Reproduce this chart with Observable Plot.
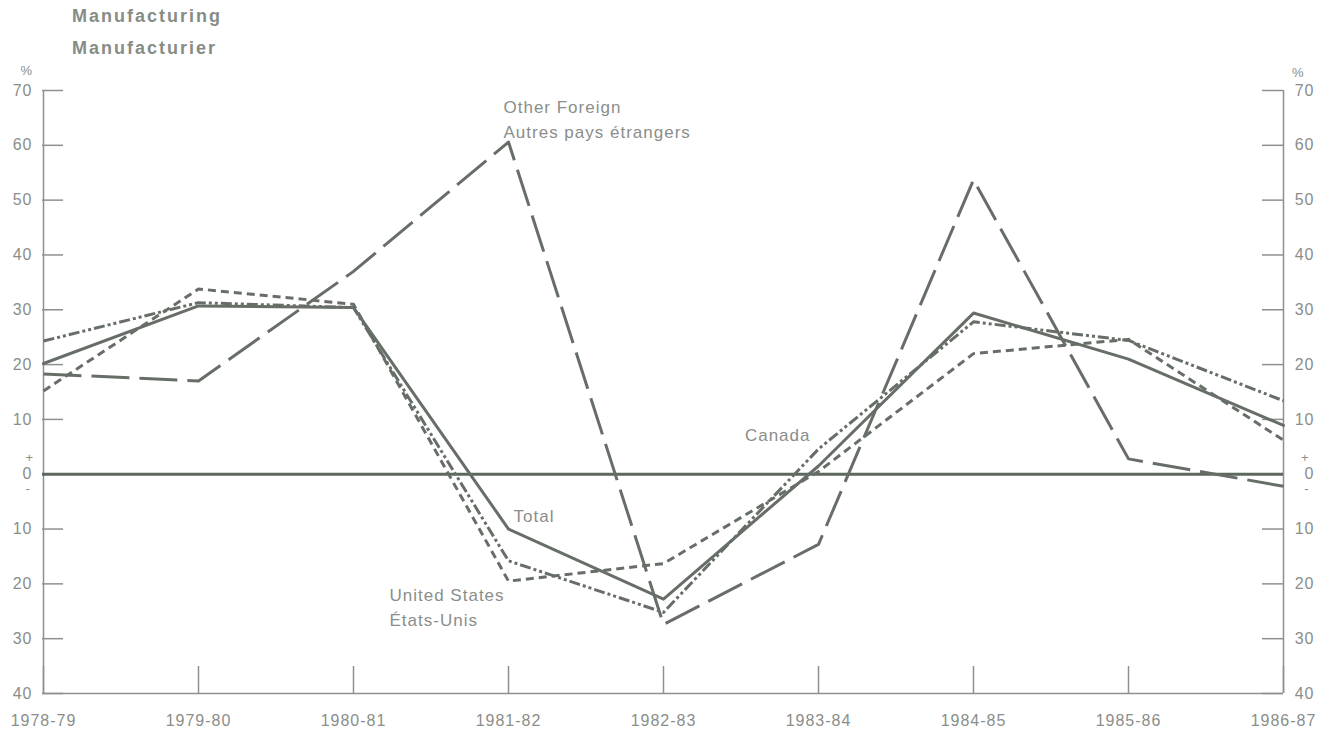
<!DOCTYPE html>
<html>
<head>
<meta charset="utf-8">
<script src="https://cdn.jsdelivr.net/npm/d3@7"></script>
<script src="https://cdn.jsdelivr.net/npm/@observablehq/plot@0.6"></script>
<style>
  html, body { margin: 0; padding: 0; background: #fff; }
  #wrap { position: relative; width: 1331px; height: 735px; }
  #title { position: absolute; left: 72px; top: 0; font-family: "Liberation Sans", Arial, sans-serif;
           font-weight: bold; font-size: 18px; line-height: 32px; letter-spacing: 2px; color: #868c86; }
  #wrap svg text { letter-spacing: 1px; }
</style>
</head>
<body>
<div id="wrap">
  <div id="title">Manufacturing<br>Manufacturier</div>
</div>
<script>
const periods = ["1978-79","1979-80","1980-81","1981-82","1982-83","1983-84","1984-85","1985-86","1986-87"];
const total        = [20.2, 30.7, 30.4, -10.0, -22.8, 1.5, 29.4, 21.0, 8.9];
const canada       = [24.3, 31.3, 30.4, -15.8, -25.2, 4.6, 27.8, 24.4, 13.4];
const unitedStates = [15.2, 33.8, 31.0, -19.5, -16.3, 0.5, 22.0, 24.6, 6.2];
const otherForeign = [18.3, 17.0, 37.0, 60.6, -27.4, -12.8, 53.7, 2.8, -2.2];
const yTicks = [70, 60, 50, 40, 30, 20, 10, 0, -10, -20, -30, -40];
const annotations = [
  {text: "Other Foreign\nAutres pays étrangers", period: "1981-82", value: 65.0, anchor: "start", dx: -5},
  {text: "Canada", period: "1983-84", value: 7.1, anchor: "end", dx: -8},
  {text: "Total", period: "1981-82", value: -7.7, anchor: "start", dx: 5},
  {text: "United States\nÉtats-Unis", period: "1981-82", value: -24.0, anchor: "start", dx: -119}
];

const rows = (vals) => periods.map((p, i) => ({period: p, value: vals[i]}));

const lineColor = "#676e67";
const axisColor = "#8d918d";
const textColor = "#8a8e8a";
const font = "Liberation Sans, Arial, sans-serif";

const chart = Plot.plot({
  width: 1331,
  height: 735,
  marginLeft: 42,
  marginRight: 48,
  marginTop: 90,
  marginBottom: 42,
  style: {fontFamily: font, fontSize: "16px", color: textColor, background: "#fff"},
  x: {type: "point", domain: periods, padding: 0, label: null},
  y: {domain: [-40, 70], axis: null},
  marks: [
    // frame axes
    Plot.ruleX([periods[0]], {stroke: axisColor, strokeWidth: 1.5}),
    Plot.ruleX([periods[periods.length - 1]], {stroke: axisColor, strokeWidth: 1.5}),
    Plot.ruleY([-40], {stroke: axisColor, strokeWidth: 1.5}),
    // inward ticks
    Plot.ruleY(yTicks.filter(d => d !== 0), {y: d => d, stroke: axisColor, strokeWidth: 1.5, insetRight: 1220}),
    Plot.ruleY(yTicks.filter(d => d !== 0), {y: d => d, stroke: axisColor, strokeWidth: 1.5, insetLeft: 1220}),
    Plot.ruleX(periods, {x: d => d, stroke: axisColor, strokeWidth: 1.5, insetTop: 576}),
    // zero line
    Plot.ruleY([0], {stroke: "#5c685e", strokeWidth: 3}),
    // series
    Plot.line(rows(otherForeign), {x: "period", y: "value", stroke: lineColor, strokeWidth: 3, strokeLinecap: "butt", strokeDasharray: "38,10"}),
    Plot.line(rows(unitedStates), {x: "period", y: "value", stroke: lineColor, strokeWidth: 3, strokeLinecap: "butt", strokeDasharray: "8,5"}),
    Plot.line(rows(canada), {x: "period", y: "value", stroke: lineColor, strokeWidth: 3, strokeLinecap: "butt", strokeDasharray: "11,3,3,3,3,3"}),
    Plot.line(rows(total), {x: "period", y: "value", stroke: lineColor, strokeWidth: 3}),
    // y tick labels
    Plot.text(yTicks, {y: d => d, text: d => String(Math.abs(d)), frameAnchor: "left", textAnchor: "end", dx: -10, fill: textColor, fontSize: 16}),
    Plot.text(yTicks, {y: d => d, text: d => String(Math.abs(d)), frameAnchor: "right", textAnchor: "end", dx: 31, fill: textColor, fontSize: 16}),
    Plot.text(["+"], {y: () => 0, text: d => d, frameAnchor: "left", dx: -17, dy: -16, fill: textColor, fontSize: 13}),
    Plot.text(["-"], {y: () => 0, text: d => d, frameAnchor: "left", dx: -17, dy: 15, fill: textColor, fontSize: 13}),
    Plot.text(["+"], {y: () => 0, text: d => d, frameAnchor: "right", dx: 26, dy: -16, fill: textColor, fontSize: 13}),
    Plot.text(["-"], {y: () => 0, text: d => d, frameAnchor: "right", dx: 26, dy: 15, fill: textColor, fontSize: 13}),
    Plot.text(["%"], {text: d => d, frameAnchor: "top-left", lineAnchor: "middle", dx: -22, dy: -20, fill: textColor, fontSize: 13}),
    Plot.text(["%"], {text: d => d, frameAnchor: "top-right", lineAnchor: "middle", dx: 21, dy: -18, fill: textColor, fontSize: 13}),
    // x axis labels
    Plot.axisX({tickSize: 0, tickPadding: 21, label: null, fill: textColor, fontSize: 16}),
    // annotations
    Plot.text(annotations.filter(d => d.anchor === "start" && d.dx === -5), {x: "period", y: "value", text: "text", textAnchor: "start", dx: -5, lineHeight: 1.47, fill: textColor, fontSize: 17}),
    Plot.text(annotations.filter(d => d.anchor === "start" && d.dx === 5), {x: "period", y: "value", text: "text", textAnchor: "start", dx: 5, fill: textColor, fontSize: 17}),
    Plot.text(annotations.filter(d => d.anchor === "start" && d.dx === -119), {x: "period", y: "value", text: "text", textAnchor: "start", dx: -119, lineHeight: 1.47, fill: textColor, fontSize: 17}),
    Plot.text(annotations.filter(d => d.anchor === "end"), {x: "period", y: "value", text: "text", textAnchor: "end", dx: -8, fill: textColor, fontSize: 17})
  ]
});
document.getElementById("wrap").appendChild(chart);
</script>
</body>
</html>
